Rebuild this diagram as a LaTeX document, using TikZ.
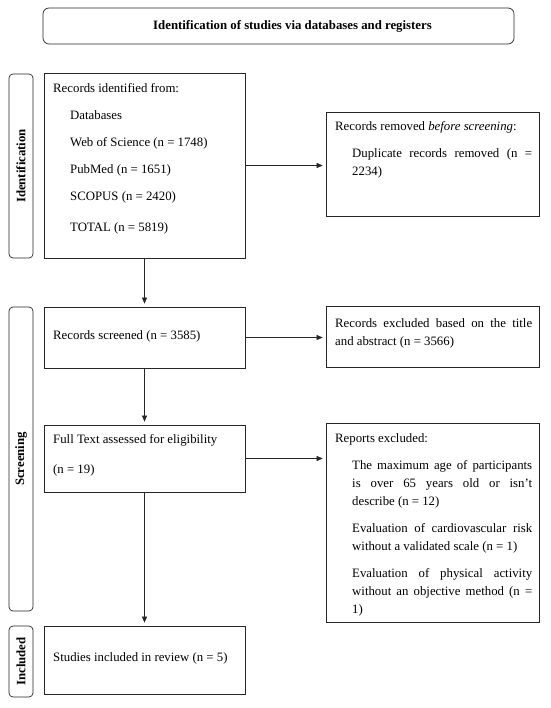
\documentclass[tikz,border=0pt]{standalone}
\usepackage{fontspec}
\setmainfont{Liberation Serif}
\usetikzlibrary{arrows.meta,positioning}

\newcommand{\initem}[1]{{\leftskip=17pt\relax #1\par}}

\tikzset{
  box/.style={draw=black!85, line width=0.7pt, inner sep=0pt},
  tag/.style={draw=black!85, line width=0.7pt, rounded corners=4pt, inner sep=0pt,
    rotate=90, minimum height=24pt, font=\fontsize{12.8}{15}\selectfont\bfseries},
  txt/.style={inner sep=0pt, anchor=base west, align=justify,
    font=\fontsize{12.8}{18}\selectfont, execute at begin node={\setlength{\parskip}{9pt}}},
  flow/.style={-{Triangle[length=6pt,width=5pt]}, draw=black!85, line width=0.6pt, shorten >=3pt}
}

\begin{document}
\begin{tikzpicture}[x=1pt, y=-1pt]
  \useasboundingbox (0,0) rectangle (550,708);

  % header
  \node[box, rounded corners=6pt, minimum width=471pt, minimum height=36pt,
    font=\fontsize{12.8}{15}\selectfont\bfseries] (title) at (278.5,26)
    {\hspace*{28pt}Identification of studies via databases and registers};

  % phase tags
  \node[tag, minimum width=184pt] (identtag) at (21,166) {Identification};
  \node[tag, minimum width=304pt] (screentag) at (21,459) {Screening};
  \node[tag, minimum width=71pt] (incltag) at (21,661.5) {Included};

  % boxes
  \node[box, minimum width=201pt, minimum height=185pt] (ident) at (144.5,165.5) {};
  \node[box, minimum width=213pt, minimum height=104pt] (removed) at (432.5,164) {};
  \node[box, minimum width=201pt, minimum height=61pt] (screened) at (144.5,337.5) {};
  \node[box, minimum width=213pt, minimum height=61pt] (excluded) at (432.5,336.5) {};
  \node[box, minimum width=201pt, minimum height=67pt] (fulltext) at (144.5,458.5) {};
  \node[box, minimum width=213pt, minimum height=199pt] (reports) at (432.5,522.5) {};
  \node[box, minimum width=201pt, minimum height=68pt] (included) at (144.5,660) {};

  % texts
  \node[txt, text width=185pt] (identtxt) at (53,93) {Records identified from:\par
    \initem{Databases}
    \initem{Web of Science (n = 1748)}
    \initem{PubMed (n = 1651)}
    \initem{SCOPUS (n = 2420)}
    \vspace{4pt}\initem{TOTAL (n = 5819)}};
  \node[txt, text width=197pt] (removedtxt) at (335,131) {Records removed \textit{before screening}:\par
    \initem{Duplicate records removed (n = 2234)}};
  \node[txt] (screenedtxt) at (53,339) {Records screened (n = 3585)};
  \node[txt, text width=197pt] (excludedtxt) at (335,327)
    {Records excluded based on the title\linebreak and abstract (n = 3566)};
  \node[txt, text width=185pt] (fulltexttxt) at (53,443) {Full Text assessed for eligibility\par
    \vspace{3pt}(n = 19)};
  \node[txt, text width=197pt] (reportstxt) at (335,442) {Reports excluded:\par
    \initem{The maximum age of participants\linebreak is over 65 years old or isn’t\linebreak describe (n = 12)}
    \initem{Evaluation of cardiovascular risk without a validated scale (n = 1)}
    \initem{Evaluation of physical activity without an objective method (n = 1)}};
  \node[txt] (includedtxt) at (53,661) {Studies included in review (n = 5)};

  % arrows
  \draw[flow] (ident) -- (screened);
  \draw[flow] (screened) -- (fulltext);
  \draw[flow] (fulltext) -- (included);
  \draw[flow] (ident.east) -- (ident.east -| removed.west);
  \draw[flow] (screened.east) -- (screened.east -| excluded.west);
  \draw[flow] (fulltext.east) -- (fulltext.east -| reports.west);
\end{tikzpicture}
\end{document}
